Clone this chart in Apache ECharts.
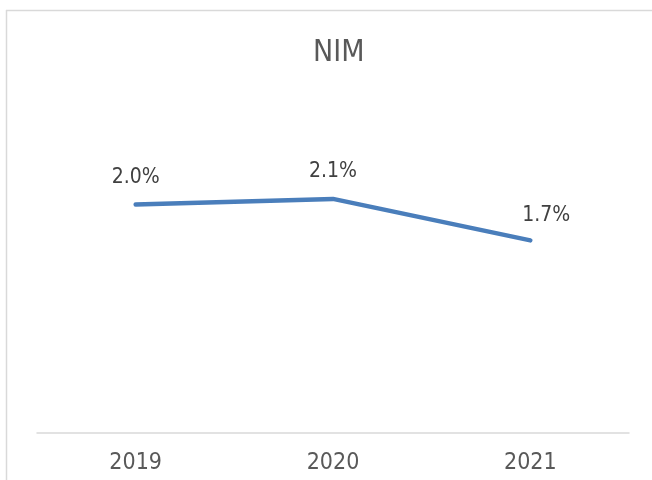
<!DOCTYPE html>
<html><head><meta charset="utf-8">
<script src="https://cdn.jsdelivr.net/npm/echarts@6/dist/echarts.min.js"></script>
<style>html,body{margin:0;padding:0;background:#fff}#c{width:652px;height:480px}</style>
</head><body><div id="c"></div>
<script>
const categories = ['2019', '2020', '2021'];
const nimValues = [2.04, 2.09, 1.72];
const labelOffsets = [[0, 0], [0, 0], [16, 2]];

const chart = echarts.init(document.getElementById('c'));
const FONT = "'DejaVu Sans Condensed', 'DejaVu Sans', sans-serif";
chart.setOption({
  animation: false,
  backgroundColor: '#fff',
  title: { text: 'NIM', left: 308, top: 33, textStyle: { fontFamily: FONT, fontSize: 30, fontWeight: 'normal', color: '#595959' } },
  graphic: [
    { type: 'line', shape: { x1: 6, y1: 10.5, x2: 652, y2: 10.5 }, style: { stroke: '#d9d9d9', lineWidth: 1.5 } },
    { type: 'line', shape: { x1: 6.5, y1: 10, x2: 6.5, y2: 480 }, style: { stroke: '#d9d9d9', lineWidth: 1.5 } }
  ],
  grid: { left: 37, right: 23, top: 153, bottom: 47 },
  xAxis: {
    type: 'category', data: categories, boundaryGap: true,
    axisLine: { lineStyle: { color: '#d9d9d9', width: 1.5 } },
    axisTick: { show: false },
    axisLabel: { fontFamily: FONT, fontSize: 23, color: '#595959', margin: 19 }
  },
  yAxis: { type: 'value', min: 0, max: 2.5, show: false, splitLine: { show: false } },
  series: [{
    type: 'line',
    data: nimValues.map((v, i) => ({ value: v, label: { offset: labelOffsets[i] } })),
    symbol: 'circle', symbolSize: 3, showSymbol: true,
    itemStyle: { color: '#4a7ebb' },
    lineStyle: { color: '#4a7ebb', width: 4.5, cap: 'round' },
    label: {
      show: true, position: 'top', distance: 15,
      formatter: p => p.value.toFixed(1) + '%',
      fontFamily: FONT, fontSize: 21, color: '#404040'
    }
  }]
});
</script></body></html>
